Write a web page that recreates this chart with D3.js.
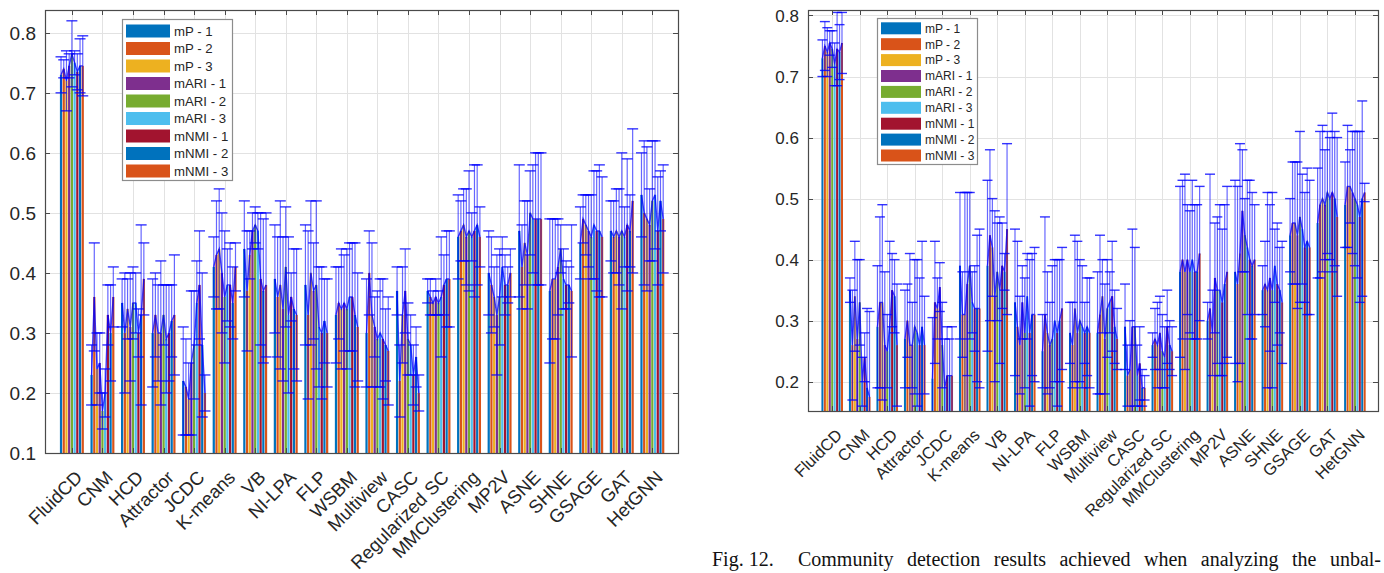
<!DOCTYPE html>
<html>
<head>
<meta charset="utf-8">
<script src="https://cdn.jsdelivr.net/npm/d3@7/dist/d3.min.js"></script>
<style>
  html, body { margin: 0; padding: 0; background: #fff; }
  svg { display: block; }
</style>
</head>
<body>
<svg id="chart" width="1384" height="573"></svg>
<script>
// Methods on the x axis, one group of nine bars each
const categories = ["FluidCD", "CNM", "HCD", "Attractor", "JCDC", "K-means", "VB", "NI-LPA", "FLP", "WSBM",
  "Multiview", "CASC", "Regularized SC", "MMClustering", "MP2V", "ASNE", "SHNE", "GSAGE", "GAT", "HetGNN"];

// Metric / run series inside each group
const seriesNames = ["mP - 1", "mP - 2", "mP - 3", "mARI - 1", "mARI - 2", "mARI - 3", "mNMI - 1", "mNMI - 2", "mNMI - 3"];

// MATLAB default colour order (cycles after seven)
const seriesColors = ["#0072BD", "#D95319", "#EDB120", "#7E2F8E", "#77AC30", "#4DBEEE", "#A2142F", "#0072BD", "#D95319"];

// Left plot: mean score per method (rows) and series (columns)
const leftMeans = [
  [0.73, 0.74, 0.72, 0.745, 0.765, 0.75, 0.735, 0.745, 0.745],
  [0.23, 0.36, 0.24, 0.25, 0.17, 0.20, 0.33, 0.30, 0.36],
  [0.35, 0.30, 0.34, 0.31, 0.35, 0.35, 0.30, 0.33, 0.39],
  [0.30, 0.33, 0.30, 0.30, 0.33, 0.29, 0.30, 0.32, 0.33],
  [0.22, 0.21, 0.19, 0.25, 0.28, 0.35, 0.38, 0.28, 0.20],
  [0.41, 0.43, 0.44, 0.40, 0.36, 0.38, 0.38, 0.35, 0.41],
  [0.44, 0.37, 0.43, 0.47, 0.48, 0.47, 0.39, 0.37, 0.38],
  [0.39, 0.36, 0.38, 0.34, 0.41, 0.33, 0.36, 0.34, 0.33],
  [0.38, 0.33, 0.40, 0.37, 0.38, 0.31, 0.30, 0.32, 0.30],
  [0.33, 0.35, 0.34, 0.35, 0.34, 0.36, 0.36, 0.33, 0.31],
  [0.30, 0.40, 0.33, 0.31, 0.29, 0.30, 0.29, 0.28, 0.27],
  [0.37, 0.22, 0.33, 0.37, 0.29, 0.28, 0.23, 0.26, 0.20],
  [0.37, 0.36, 0.35, 0.36, 0.35, 0.36, 0.38, 0.39, 0.39],
  [0.46, 0.47, 0.48, 0.46, 0.47, 0.46, 0.47, 0.48, 0.46],
  [0.40, 0.38, 0.36, 0.33, 0.36, 0.41, 0.38, 0.38, 0.40],
  [0.47, 0.41, 0.45, 0.43, 0.50, 0.49, 0.49, 0.49, 0.49],
  [0.37, 0.39, 0.39, 0.41, 0.44, 0.39, 0.38, 0.38, 0.37],
  [0.45, 0.49, 0.48, 0.47, 0.46, 0.48, 0.47, 0.47, 0.46],
  [0.47, 0.46, 0.47, 0.46, 0.47, 0.46, 0.48, 0.47, 0.52],
  [0.53, 0.50, 0.49, 0.48, 0.52, 0.53, 0.47, 0.52, 0.49]
];

// Left plot: error bar half-lengths
const leftErrors = [
  [0.03, 0.015, 0.05, 0.02, 0.055, 0.02, 0.03, 0.045, 0.05],
  [0.05, 0.09, 0.06, 0.05, 0.03, 0.04, 0.05, 0.08, 0.05],
  [0.04, 0.10, 0.05, 0.09, 0.06, 0.05, 0.04, 0.15, 0.06],
  [0.09, 0.07, 0.08, 0.12, 0.05, 0.09, 0.08, 0.06, 0.10],
  [0.09, 0.08, 0.06, 0.12, 0.09, 0.07, 0.09, 0.12, 0.03],
  [0.05, 0.09, 0.10, 0.10, 0.11, 0.06, 0.07, 0.06, 0.04],
  [0.08, 0.10, 0.04, 0.03, 0.03, 0.03, 0.11, 0.12, 0.12],
  [0.09, 0.10, 0.14, 0.12, 0.10, 0.13, 0.04, 0.10, 0.11],
  [0.10, 0.14, 0.12, 0.08, 0.14, 0.10, 0.11, 0.07, 0.09],
  [0.08, 0.06, 0.10, 0.08, 0.10, 0.09, 0.09, 0.12, 0.09],
  [0.09, 0.07, 0.12, 0.05, 0.08, 0.09, 0.10, 0.06, 0.09],
  [0.04, 0.06, 0.08, 0.07, 0.06, 0.05, 0.05, 0.05, 0.03],
  [0.02, 0.03, 0.02, 0.03, 0.02, 0.10, 0.05, 0.08, 0.08],
  [0.07, 0.05, 0.06, 0.08, 0.10, 0.04, 0.11, 0.10, 0.05],
  [0.07, 0.08, 0.05, 0.10, 0.08, 0.05, 0.05, 0.03, 0.04],
  [0.11, 0.07, 0.07, 0.09, 0.07, 0.09, 0.11, 0.11, 0.11],
  [0.12, 0.10, 0.10, 0.08, 0.04, 0.05, 0.04, 0.03, 0.11],
  [0.06, 0.04, 0.05, 0.06, 0.07, 0.09, 0.10, 0.11, 0.10],
  [0.05, 0.06, 0.07, 0.08, 0.13, 0.05, 0.11, 0.06, 0.12],
  [0.07, 0.12, 0.12, 0.06, 0.10, 0.09, 0.09, 0.05, 0.09]
];

// Right plot: mean score per method and series
const rightMeans = [
  [0.73, 0.75, 0.74, 0.755, 0.745, 0.72, 0.745, 0.74, 0.755],
  [0.35, 0.26, 0.34, 0.27, 0.33, 0.20, 0.24, 0.19, 0.175],
  [0.29, 0.33, 0.33, 0.26, 0.25, 0.29, 0.35, 0.34, 0.26],
  [0.27, 0.30, 0.26, 0.26, 0.29, 0.28, 0.26, 0.29, 0.26],
  [0.205, 0.33, 0.32, 0.355, 0.26, 0.19, 0.21, 0.21, 0.21],
  [0.39, 0.31, 0.31, 0.36, 0.39, 0.33, 0.32, 0.32, 0.32],
  [0.39, 0.44, 0.42, 0.34, 0.38, 0.35, 0.39, 0.38, 0.45],
  [0.33, 0.29, 0.26, 0.33, 0.28, 0.34, 0.28, 0.31, 0.31],
  [0.25, 0.31, 0.28, 0.26, 0.27, 0.30, 0.28, 0.30, 0.32],
  [0.28, 0.26, 0.32, 0.28, 0.30, 0.29, 0.28, 0.29, 0.28],
  [0.28, 0.31, 0.34, 0.27, 0.32, 0.33, 0.34, 0.29, 0.27],
  [0.29, 0.21, 0.22, 0.29, 0.29, 0.21, 0.23, 0.19, 0.19],
  [0.26, 0.27, 0.26, 0.28, 0.25, 0.24, 0.29, 0.26, 0.25],
  [0.38, 0.40, 0.38, 0.40, 0.38, 0.40, 0.38, 0.38, 0.41],
  [0.30, 0.32, 0.28, 0.37, 0.35, 0.35, 0.33, 0.36, 0.38],
  [0.38, 0.36, 0.41, 0.48, 0.44, 0.42, 0.40, 0.39, 0.40],
  [0.35, 0.36, 0.35, 0.37, 0.35, 0.39, 0.36, 0.35, 0.33],
  [0.44, 0.46, 0.46, 0.44, 0.47, 0.45, 0.42, 0.43, 0.42],
  [0.46, 0.49, 0.50, 0.49, 0.51, 0.50, 0.51, 0.50, 0.47],
  [0.49, 0.52, 0.52, 0.51, 0.50, 0.49, 0.47, 0.50, 0.51]
];

// Right plot: error bar half-lengths
const rightErrors = [
  [0.03, 0.04, 0.04, 0.02, 0.03, 0.035, 0.06, 0.045, 0.05],
  [0.02, 0.09, 0.09, 0.13, 0.07, 0.04, 0.04, 0.13, 0.14],
  [0.10, 0.14, 0.16, 0.12, 0.06, 0.14, 0.06, 0.06, 0.10],
  [0.08, 0.06, 0.15, 0.07, 0.11, 0.12, 0.11, 0.14, 0.08],
  [0.10, 0.10, 0.05, 0.04, 0.07, 0.08, 0.08, 0.06, 0.08],
  [0.12, 0.07, 0.20, 0.15, 0.12, 0.05, 0.07, 0.12, 0.13],
  [0.14, 0.14, 0.08, 0.14, 0.08, 0.12, 0.07, 0.03, 0.14],
  [0.12, 0.14, 0.08, 0.06, 0.09, 0.07, 0.12, 0.10, 0.11],
  [0.06, 0.16, 0.10, 0.07, 0.12, 0.10, 0.12, 0.10, 0.10],
  [0.05, 0.07, 0.12, 0.15, 0.10, 0.10, 0.05, 0.08, 0.09],
  [0.10, 0.13, 0.06, 0.09, 0.08, 0.05, 0.09, 0.06, 0.05],
  [0.07, 0.05, 0.08, 0.16, 0.13, 0.05, 0.06, 0.03, 0.02],
  [0.02, 0.05, 0.07, 0.06, 0.06, 0.05, 0.06, 0.04, 0.04],
  [0.14, 0.13, 0.16, 0.09, 0.10, 0.13, 0.11, 0.11, 0.11],
  [0.03, 0.22, 0.07, 0.09, 0.12, 0.14, 0.12, 0.13, 0.14],
  [0.15, 0.16, 0.18, 0.10, 0.06, 0.11, 0.13, 0.12, 0.09],
  [0.04, 0.07, 0.16, 0.12, 0.16, 0.06, 0.10, 0.07, 0.10],
  [0.06, 0.10, 0.10, 0.12, 0.14, 0.09, 0.09, 0.12, 0.11],
  [0.09, 0.12, 0.12, 0.09, 0.10, 0.10, 0.13, 0.11, 0.13],
  [0.07, 0.10, 0.06, 0.10, 0.11, 0.12, 0.14, 0.16, 0.015]
];

// Y tick values for each plot
const leftTicks = [0.1, 0.2, 0.3, 0.4, 0.5, 0.6, 0.7, 0.8];
const rightTicks = [0.2, 0.3, 0.4, 0.5, 0.6, 0.7, 0.8];

// Caption words; the first gap is a wider sentence gap
const captionLabel = "Fig. 12.";
const captionWords = ["Community", "detection", "results", "achieved", "when", "analyzing", "the", "unbal-"];

const svg = d3.select("#chart");
const FONT = "'Liberation Sans', Arial, Helvetica, sans-serif";

function drawPanel(cfg) {
  const { id, means, errors, ticks, x0, x1, yTop, yBot, yDomain, tickFont, labelFont, capW, legend } = cfg;
  const g = svg.append("g");

  const x = d3.scaleLinear().domain([0.12, 20.84]).range([x0, x1]);
  const y = d3.scaleLinear().domain(yDomain).range([yBot, yTop]);

  const nSeries = seriesNames.length;
  const groupWidth = 0.8;
  const pitch = groupWidth / nSeries;
  const barW = (x(pitch) - x(0)) * 0.82;
  const barX = (i, j) => x(i + 1 + (j - (nSeries - 1) / 2) * pitch);

  // clip region = axes box
  g.append("clipPath").attr("id", "clip-" + id)
    .append("rect").attr("x", x0).attr("y", yTop).attr("width", x1 - x0).attr("height", yBot - yTop);

  // grid
  const grid = g.append("g").attr("stroke", "#e2e2e2").attr("stroke-width", 1);
  grid.selectAll("line.gy").data(ticks).join("line")
    .attr("x1", x0).attr("x2", x1)
    .attr("y1", d => Math.round(y(d)) + 0.5).attr("y2", d => Math.round(y(d)) + 0.5);
  grid.selectAll("line.gx").data(categories).join("line")
    .attr("y1", yTop).attr("y2", yBot)
    .attr("x1", (d, i) => Math.round(x(i + 1)) + 0.5).attr("x2", (d, i) => Math.round(x(i + 1)) + 0.5);

  const plot = g.append("g").attr("clip-path", `url(#clip-${id})`);

  // bars (drawn up from zero and clipped by the box)
  const groups = plot.selectAll("g.grp").data(means).join("g");
  groups.selectAll("rect").data((row, i) => row.map((v, j) => ({ i, j, v }))).join("rect")
    .attr("x", d => barX(d.i, d.j) - barW / 2)
    .attr("width", barW)
    .attr("y", d => y(d.v))
    .attr("height", d => y(0) - y(d.v))
    .attr("fill", d => seriesColors[d.j]);

  // error bars with a line joining the group means
  const eb = plot.append("g").attr("stroke", "#0000ff").attr("fill", "none");
  const line = d3.line().x(d => barX(d.i, d.j)).y(d => y(d.v));
  means.forEach((row, i) => {
    const pts = row.map((v, j) => ({ i, j, v, e: errors[i][j] }));
    eb.append("path").attr("d", line(pts)).attr("stroke-width", 1.4).attr("stroke-opacity", 0.75);
    pts.forEach(p => {
      const cx = barX(p.i, p.j);
      eb.append("line").attr("x1", cx).attr("x2", cx)
        .attr("y1", y(p.v - p.e)).attr("y2", y(p.v + p.e))
        .attr("stroke-width", 1.2).attr("stroke-opacity", 0.6);
      [p.v - p.e, p.v + p.e].forEach(v => {
        eb.append("line").attr("x1", cx - capW / 2).attr("x2", cx + capW / 2)
          .attr("y1", y(v)).attr("y2", y(v))
          .attr("stroke-width", 1.4).attr("stroke-opacity", 0.8);
      });
    });
  });

  // box and inward ticks
  const axisColor = "#4a4a4a";
  const tl = 5;
  g.append("rect").attr("x", x0 + 0.5).attr("y", yTop + 0.5).attr("width", x1 - x0).attr("height", yBot - yTop)
    .attr("fill", "none").attr("stroke", axisColor).attr("stroke-width", 1.2);
  const tk = g.append("g").attr("stroke", axisColor).attr("stroke-width", 1);
  categories.forEach((c, i) => {
    const cx = Math.round(x(i + 1)) + 0.5;
    tk.append("line").attr("x1", cx).attr("x2", cx).attr("y1", yBot).attr("y2", yBot - tl);
    tk.append("line").attr("x1", cx).attr("x2", cx).attr("y1", yTop).attr("y2", yTop + tl);
  });
  ticks.forEach(t => {
    const ty = Math.round(y(t)) + 0.5;
    tk.append("line").attr("x1", x0).attr("x2", x0 + tl).attr("y1", ty).attr("y2", ty);
    tk.append("line").attr("x1", x1).attr("x2", x1 - tl).attr("y1", ty).attr("y2", ty);
  });

  // y tick labels
  g.append("g").selectAll("text").data(ticks).join("text")
    .attr("x", x0 - 9).attr("y", d => y(d)).attr("dy", "0.36em")
    .attr("text-anchor", "end").attr("font-family", FONT).attr("font-size", tickFont).attr("fill", "#262626")
    .text(d => d3.format(".1f")(d));

  // rotated category labels
  g.append("g").selectAll("text").data(categories).join("text")
    .attr("transform", (d, i) => `translate(${x(i + 1) + 7},${yBot + 21}) rotate(-45)`)
    .attr("dy", "0.35em").attr("text-anchor", "end")
    .attr("font-family", FONT).attr("font-size", labelFont).attr("fill", "#262626")
    .text(d => d);

  // legend
  const lg = g.append("g");
  lg.append("rect").attr("x", legend.x + 0.5).attr("y", legend.y + 0.5).attr("width", legend.w).attr("height", legend.h)
    .attr("fill", "#fff").attr("stroke", "#8c8c8c").attr("stroke-width", 1.2);
  seriesNames.forEach((name, j) => {
    const cy = legend.first + j * legend.rowH;
    lg.append("rect").attr("x", legend.x + 4).attr("y", cy - legend.sh / 2)
      .attr("width", legend.sw).attr("height", legend.sh).attr("fill", seriesColors[j]);
    lg.append("text").attr("x", legend.x + 8 + legend.sw).attr("y", cy).attr("dy", "0.36em")
      .attr("font-family", FONT).attr("font-size", legend.font).attr("fill", "#262626").text(name);
  });
}

drawPanel({
  id: "left", means: leftMeans, errors: leftErrors, ticks: leftTicks,
  x0: 45, x1: 678, yTop: 10, yBot: 453, yDomain: [0.1, 0.838],
  tickFont: 19, labelFont: 18.5, capW: 11,
  legend: { x: 122, y: 19, w: 110, h: 161, sw: 44, sh: 13, rowH: 17.5, first: 31, font: 13.2 }
});

drawPanel({
  id: "right", means: rightMeans, errors: rightErrors, ticks: rightTicks,
  x0: 808, x1: 1378, yTop: 10, yBot: 411, yDomain: [0.152, 0.809],
  tickFont: 17, labelFont: 16.5, capW: 10,
  legend: { x: 877, y: 18, w: 100, h: 146, sw: 40, sh: 12, rowH: 15.9, first: 28.3, font: 12 }
});

// figure caption, justified between the label start and the right margin
(function drawCaption() {
  const left = 712, right = 1381, base = 566, size = 20;
  const cap = svg.append("g")
    .attr("font-family", "'Liberation Serif', 'Times New Roman', serif")
    .attr("font-size", size).attr("fill", "#111");
  const label = cap.append("text").attr("x", left).attr("y", base).text(captionLabel);
  const words = captionWords.map(w => cap.append("text").attr("y", base).text(w));
  const labelW = label.node().getComputedTextLength();
  const widths = words.map(t => t.node().getComputedTextLength());
  const used = labelW + d3.sum(widths);
  // sentence gap is wider than the ordinary word gaps
  const gap = (right - left - used) / (words.length + 0.8);
  let cursor = left + labelW + 1.8 * gap;
  words.forEach((t, k) => {
    t.attr("x", cursor);
    cursor += widths[k] + gap;
  });
})();
</script>
</body>
</html>
